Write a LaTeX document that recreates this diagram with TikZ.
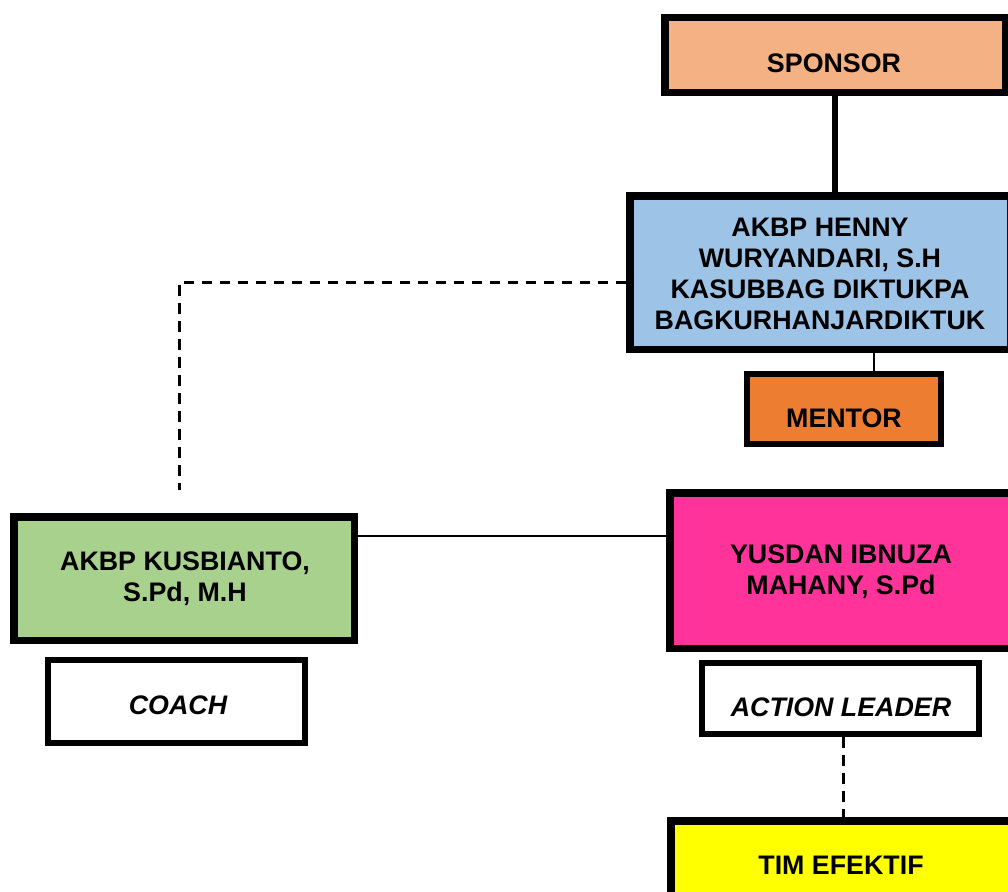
\documentclass[tikz,border=0pt]{standalone}
\usepackage{fontspec}
\setmainfont{Liberation Sans}
\definecolor{cSponsor}{HTML}{F4B183}
\definecolor{cHenny}{HTML}{9DC3E6}
\definecolor{cMentor}{HTML}{ED7D31}
\definecolor{cKus}{HTML}{A9D18E}
\definecolor{cYus}{HTML}{FF3399}
\definecolor{cTim}{HTML}{FFFF00}
\tikzset{
  thickbox/.style={draw=black, line width=7.5pt, rectangle, inner sep=0pt},
  thinbox/.style={draw=black, line width=5.7pt, rectangle, inner sep=0pt},
  txt/.style={font=\fontsize{26.8}{31}\selectfont\bfseries, align=center, inner sep=0pt},
  itxt/.style={font=\fontsize{26.8}{31}\selectfont\bfseries\itshape, align=center, inner sep=0pt},
  dashline/.style={line width=3pt, dash pattern=on 10.5pt off 7.5pt},
}
\begin{document}
\begin{tikzpicture}[x=1pt,y=-1pt]
\clip (0,0) rectangle (1008,891);
\fill[white] (0,0) rectangle (1008,891);

% boxes
\node[thickbox, fill=cSponsor, minimum width=340.5pt, minimum height=74.5pt] (sponsor) at (835,55) {};
\node[txt] (sponsortxt) at (834,63) {SPONSOR};

\node[thickbox, fill=cHenny, minimum width=380.5pt, minimum height=153.5pt] (henny) at (820,272.5) {};
\node[txt] (hennytxt) at (820,273.5) {AKBP HENNY\\WURYANDARI, S.H\\KASUBBAG DIKTUKPA\\BAGKURHANJARDIKTUK};

\node[thinbox, fill=cMentor, minimum width=194.3pt, minimum height=70.3pt] (mentor) at (844,409) {};
\node[txt] (mentortxt) at (844,418) {MENTOR};

\node[thickbox, fill=cKus, minimum width=340.5pt, minimum height=123.5pt] (kus) at (184,578.5) {};
\node[txt] (kustxt) at (185,579) {AKBP KUSBIANTO,\\S.Pd, M.H};

\node[thinbox, fill=white, minimum width=257.3pt, minimum height=83.3pt] (coach) at (176.5,701.5) {};
\node[itxt] (coachtxt) at (178,705) {COACH};

\node[thickbox, fill=cYus, minimum width=342.5pt, minimum height=155.5pt] (yus) at (841,570.5) {};
\node[txt] (yustxt) at (841,571.5) {YUSDAN IBNUZA\\MAHANY, S.Pd};

\node[thinbox, fill=white, minimum width=277.3pt, minimum height=71.3pt] (action) at (840.5,698.5) {};
\node[itxt] (actiontxt) at (841,707) {ACTION LEADER};

\node[thickbox, fill=cTim, minimum width=340.5pt, minimum height=75.5pt] (tim) at (841,858.5) {};
\node[txt] (timtxt) at (841,865) {TIM EFEKTIF};

% connectors
\coordinate (dashend) at (179,490);
\draw[line width=6pt] (sponsor.south) -- (sponsor.south |- henny.north);
\draw[line width=2.2pt] ([xshift=30pt]mentor.north |- henny.south) -- ([xshift=30pt]mentor.north);
\draw[dashline] ([yshift=-9.5pt]henny.west) -| (dashend);
\draw[line width=2.2pt] ([yshift=42.5pt]kus.east) -- ([yshift=42.5pt]kus.east -| yus.west);
\draw[dashline] ([xshift=2.5pt]action.south) -- ([xshift=2.5pt]action.south |- tim.north);
\end{tikzpicture}
\end{document}
